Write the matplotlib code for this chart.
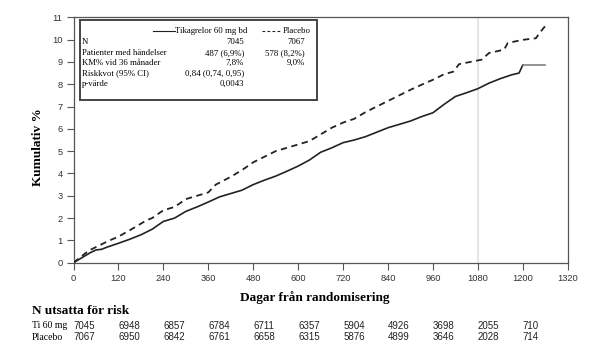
import matplotlib
matplotlib.use('Agg')
import matplotlib.pyplot as plt

# kumulativ incidens (%)
ti_days = [0, 15, 30, 45, 60, 75, 90, 120, 150, 180, 210, 240, 270, 300, 330, 360, 390, 420, 450,
           480, 510, 540, 570, 600, 630, 660, 690, 720, 750, 780, 810, 840, 870, 900, 930, 960,
           990, 1020, 1050, 1080, 1110, 1140, 1170, 1190, 1200]
ti_vals = [0, 0.15, 0.3, 0.45, 0.57, 0.6, 0.7, 0.87, 1.05, 1.25, 1.5, 1.85, 2.0, 2.3, 2.5, 2.72, 2.95, 3.1, 3.25,
           3.5, 3.7, 3.88, 4.1, 4.33, 4.6, 4.95, 5.15, 5.38, 5.5, 5.65, 5.85, 6.05, 6.2, 6.35, 6.55, 6.72,
           7.1, 7.45, 7.62, 7.8, 8.05, 8.25, 8.42, 8.5, 8.86]
ti_tail_days = [1200, 1260]
ti_tail_vals = [8.86, 8.86]

pl_days = [0, 15, 30, 44, 60, 90, 120, 150, 180, 195, 210, 240, 270, 300, 330, 360, 380, 420, 450,
           480, 510, 540, 570, 600, 630, 660, 690, 720, 750, 780, 810, 840, 870, 900, 930, 960, 990,
           1014, 1030, 1060, 1090, 1110, 1150, 1160, 1200, 1235, 1245, 1262]
pl_vals = [0, 0.2, 0.4, 0.57, 0.7, 0.95, 1.17, 1.45, 1.75, 1.9, 2.0, 2.35, 2.5, 2.85, 3.0, 3.15, 3.5, 3.85, 4.15,
           4.5, 4.75, 5.0, 5.15, 5.3, 5.45, 5.75, 6.05, 6.28, 6.45, 6.75, 7.0, 7.25, 7.5, 7.75, 7.98, 8.2, 8.45,
           8.56, 8.9, 9.0, 9.1, 9.4, 9.55, 9.85, 9.99, 10.06, 10.3, 10.65]

x_ticks = list(range(0, 1321, 120))
y_ticks = list(range(0, 12))

# antal i risk
risk_ti = [7045, 6948, 6857, 6784, 6711, 6357, 5904, 4926, 3698, 2055, 710]
risk_pl = [7067, 6950, 6842, 6761, 6658, 6315, 5876, 4899, 3646, 2028, 714]

# tabell i rutan
tab_rows = ['N', 'Patienter med händelser', 'KM% vid 36 månader', 'Riskkvot (95% CI)', 'p-värde']
tab_ti = ['7045', '487 (6,9%)', '7,8%', '0,84 (0,74, 0,95)', '0,0043']
tab_pl = ['7067', '578 (8,2%)', '9,0%', '', '']

SERIF = 'Liberation Serif'
plt.rcParams['font.family'] = ['Liberation Sans', 'DejaVu Sans']
W, H = 605, 358

fig = plt.figure(figsize=(6.05, 3.58), dpi=100)
ax = fig.add_axes([73.5 / W, 1 - 262.7 / H, (567.7 - 73.5) / W, (262.7 - 17.3) / H])

ax.axvline(1080, color='#e6e6e6', lw=1.5, zorder=1)
ax.plot(pl_days, pl_vals, color='#222222', lw=1.3, linestyle=(0, (3.5, 2.5)), zorder=3)
ax.plot(ti_days, ti_vals, color='#222222', lw=1.2, zorder=3)
ax.plot(ti_tail_days, ti_tail_vals, color='#808080', lw=1.2, zorder=3)

ax.set_xlim(0, 1320)
ax.set_ylim(0, 11)
ax.set_xticks(x_ticks)
ax.set_yticks(y_ticks)
ax.tick_params(direction='out', length=5, width=0.8, colors='#555555', labelcolor='#333333',
               labelsize=6.7, pad=3)
for sp in ax.spines.values():
    sp.set_color('#555555')
    sp.set_linewidth(0.9)

fig.text(38 / W, 1 - 147 / H, 'Kumulativ %', fontfamily=SERIF, fontweight='bold', fontsize=9.5,
         rotation=90, ha='center', va='center')
fig.text(315 / W, 1 - 298 / H, 'Dagar från randomisering', fontfamily=SERIF, fontweight='bold',
         fontsize=9.5, ha='center', va='center')

# ruta med sammanfattning
box = plt.Rectangle((80 / W, 1 - 100 / H), (317 - 80) / W, (100 - 20) / H, transform=fig.transFigure,
                    facecolor='white', edgecolor='#444444', lw=1.4, zorder=5)
fig.patches.append(box)
fs = 6.3
hy = 1 - 30.7 / H
fig.add_artist(plt.Line2D([153 / W, 175 / W], [hy, hy], color='#222222', lw=0.8, transform=fig.transFigure, zorder=6))
fig.text(175 / W, hy, 'Tikagrelor 60 mg bd', fontfamily=SERIF, fontsize=fs, va='center', zorder=6)
fig.add_artist(plt.Line2D([262 / W, 281 / W], [hy, hy], color='#222222', lw=0.8, linestyle=(0, (2.5, 2)),
                          transform=fig.transFigure, zorder=6))
fig.text(283 / W, hy, 'Placebo', fontfamily=SERIF, fontsize=fs, va='center', zorder=6)
for i, name in enumerate(tab_rows):
    ry = 1 - (42.3 + i * 10.4) / H
    fig.text(82 / W, ry, name, fontfamily=SERIF, fontsize=fs, va='center', zorder=6)
    fig.text(244 / W, ry, tab_ti[i], fontfamily=SERIF, fontsize=fs, va='center', ha='right', zorder=6)
    fig.text(305 / W, ry, tab_pl[i], fontfamily=SERIF, fontsize=fs, va='center', ha='right', zorder=6)

# N i risk, vänsterjusterat vid varje tick
fig.text(32 / W, 1 - 311 / H, 'N utsatta för risk', fontfamily=SERIF, fontweight='bold', fontsize=9.5,
         va='center')
fig.text(32 / W, 1 - 325.7 / H, 'Ti 60 mg', fontfamily=SERIF, fontsize=7, va='center')
fig.text(32 / W, 1 - 337 / H, 'Placebo', fontfamily=SERIF, fontsize=7, va='center')
for i in range(len(risk_ti)):
    x_fig = fig.transFigure.inverted().transform(ax.transData.transform((x_ticks[i], 0)))[0]
    fig.text(x_fig, 1 - 325.7 / H, str(risk_ti[i]), fontsize=7, ha='left', va='center', color='#222222')
    fig.text(x_fig, 1 - 337 / H, str(risk_pl[i]), fontsize=7, ha='left', va='center', color='#222222')

fig.savefig('out.png', dpi=100, facecolor='white')
